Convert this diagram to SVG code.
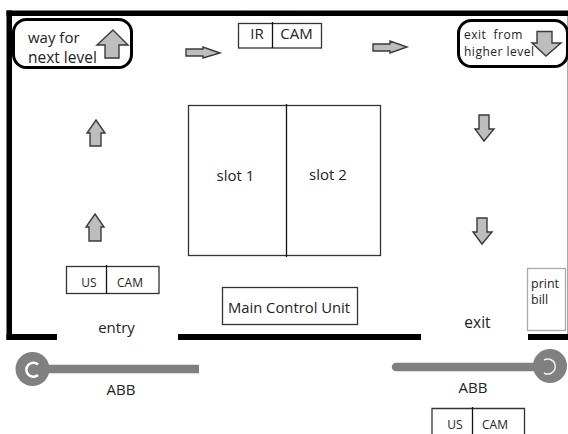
<svg xmlns="http://www.w3.org/2000/svg" width="568" height="434" viewBox="0 0 568 434">
<style>
text{font-family:"Open Sans","Noto Sans",sans-serif;fill:#222}
.wall{fill:#000}
.box{fill:#fff;stroke:#333;stroke-width:1.3}
.ln{stroke:#111;stroke-width:1.3;fill:none}
.arr{fill:#bdbdbd;stroke:#3a3a3a;stroke-width:1.4}
.pill{fill:#fff;stroke:#000;stroke-width:3}
.bar{stroke:#808080;stroke-width:8.500;fill:none}
.hub{fill:#808080}
.c{fill:none;stroke:#fff;stroke-width:2.500}
.c2{fill:none;stroke:#eee;stroke-width:1.500}
</style>
<g id="walls">
<rect class="wall" x="6.500" y="10.500" width="561.500" height="5.500"/>
<rect class="wall" x="6.500" y="10.500" width="5.500" height="329.500"/>
<rect class="wall" x="6.500" y="334" width="50.500" height="6"/>
<rect class="wall" x="178" y="334" width="243" height="6"/>
<rect class="wall" x="528" y="334" width="40" height="6"/>
<rect x="567" y="16" width="1" height="318" fill="#aaa"/>
</g>
<g id="way-for-next-level">
<rect class="pill" x="13.500" y="19.500" width="118" height="48" rx="13"/>
<text x="28" y="43" font-size="15">way for</text>
<text x="28" y="63" font-size="15.500">next level</text>
<path class="arr" d="M113 30L128 45H119V58H105V45H97Z"/>
</g>
<g id="ir-cam">
<rect class="box" x="238.500" y="23.500" width="83" height="24.500"/>
<line class="ln" x1="272.500" y1="22" x2="272.500" y2="48"/>
<text x="257" y="39" font-size="15" text-anchor="middle">IR</text>
<text x="296.500" y="39" font-size="15" text-anchor="middle">CAM</text>
</g>
<g id="exit-from-higher-level">
<rect class="pill" x="458.500" y="20.500" width="109" height="46" rx="13"/>
<text x="464" y="39" font-size="12" letter-spacing="0.500" xml:space="preserve">exit  from</text>
<text x="464" y="56" font-size="12" letter-spacing="0.500">higher level</text>
<path class="arr" d="M537 31.500H552V43H561L546 56L532 43H537Z"/>
</g>
<g id="slots">
<rect class="box" x="188.500" y="105.500" width="192" height="150"/>
<line class="ln" x1="286.500" y1="104" x2="286.500" y2="257"/>
<text x="235.500" y="181" font-size="15" text-anchor="middle">slot 1</text>
<text x="328" y="180" font-size="15" text-anchor="middle">slot 2</text>
</g>
<g id="us-cam-entry">
<rect class="box" x="66.500" y="266.500" width="92.500" height="27"/>
<line class="ln" x1="106.500" y1="265" x2="106.500" y2="294"/>
<text x="89" y="287" font-size="12" text-anchor="middle">US</text>
<text x="130" y="287" font-size="12" text-anchor="middle">CAM</text>
</g>
<g id="main-control-unit">
<rect class="box" x="222.500" y="287.500" width="135" height="37"/>
<text x="289" y="313" font-size="14.800" text-anchor="middle">Main Control Unit</text>
</g>
<g id="print-bill">
<rect x="527.500" y="268.500" width="38" height="62" fill="#fff" stroke="#aaa" stroke-width="1.300"/>
<text x="531" y="288" font-size="12.500">print</text>
<text x="531" y="304" font-size="12.500">bill</text>
</g>
<g id="entry"><text x="116.500" y="333" font-size="15" text-anchor="middle">entry</text></g>
<g id="exit"><text x="477.500" y="328" font-size="15.500" text-anchor="middle">exit</text></g>
<g id="abb-left">
<line class="bar" x1="40" y1="369" x2="199" y2="369"/>
<circle class="hub" cx="32.500" cy="369" r="17"/>
<path class="c" d="M38 364.500A7 7 0 1 0 38 375"/>
<text x="121" y="395" font-size="15" text-anchor="middle">ABB</text>
</g>
<g id="abb-right">
<line class="bar" x1="396" y1="367" x2="535" y2="367" stroke-linecap="round"/>
<circle class="hub" cx="550" cy="366" r="17"/>
<path class="c2" d="M544 360A7.500 7.500 0 1 1 544 373"/>
<text x="473" y="393" font-size="15" text-anchor="middle">ABB</text>
</g>
<g id="us-cam-exit">
<path class="box" d="M432 434V408.500H524.500V434"/>
<line class="ln" x1="472.500" y1="407" x2="472.500" y2="434"/>
<text x="455" y="429" font-size="12" text-anchor="middle">US</text>
<text x="495" y="429" font-size="12" text-anchor="middle">CAM</text>
</g>
<g id="connectors">
<path class="arr" d="M186 49H203V47L220 53L203 58V56H186Z"/>
<path class="arr" d="M373 44H390V41L407 47L390 53V51H373Z"/>
<path class="arr" d="M96 120L105 133H101V146H90V133H87Z"/>
<path class="arr" d="M95 214L104 227H101V241H89V227H86Z"/>
<path class="arr" d="M479 115H489V129H494L484 141L475 129H479Z"/>
<path class="arr" d="M477 218H487V232H492L482 244L473 232H477Z"/>
</g>
</svg>
